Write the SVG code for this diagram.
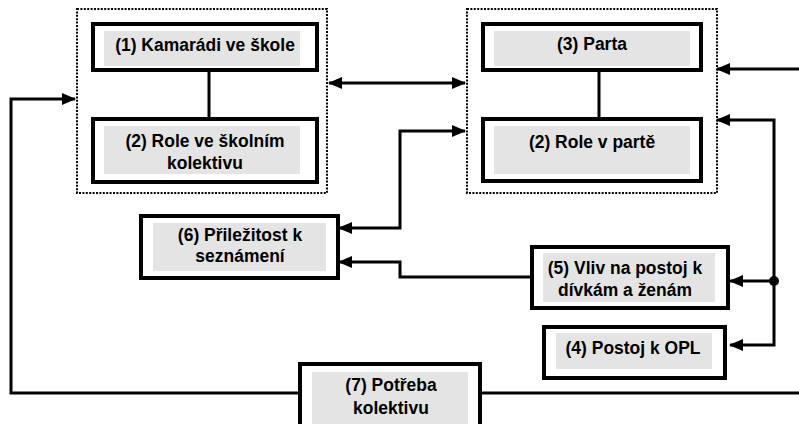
<svg xmlns="http://www.w3.org/2000/svg" width="799" height="424" viewBox="0 0 799 424">
  <style>
    .group { fill: none; stroke: #000; stroke-width: 2; stroke-dasharray: 2 1.4; }
    .box { fill: #fff; stroke: #000; stroke-width: 4; }
    .pad { fill: #e4e4e4; stroke: none; }
    .lbl { font-family: "Liberation Sans", Arial, sans-serif; font-weight: bold; font-size: 19px; fill: #000; text-anchor: middle; }
    .wire { fill: none; stroke: #000; stroke-width: 3; }
    .arr { marker-end: url(#head); }
    .both { marker-start: url(#head); marker-end: url(#head); }
  </style>
  <defs>
    <marker id="head" markerUnits="userSpaceOnUse" markerWidth="14" markerHeight="12" refX="13" refY="6" orient="auto-start-reverse">
      <path d="M0,0 L14,6 L0,12 Z" fill="#000"/>
    </marker>
  </defs>

  <rect width="799" height="424" fill="#fff"/>

  <!-- dotted clusters -->
  <rect class="group" x="77" y="9" width="250" height="184"/>
  <rect class="group" x="467" y="9" width="250" height="184"/>

  <g id="connectors">
    <line class="wire" x1="209" y1="72" x2="209" y2="117"/>
    <line class="wire" x1="599" y1="72" x2="599" y2="117"/>
    <line class="wire both" x1="329" y1="83" x2="465" y2="83"/>
    <path class="wire arr" d="M298,393 H11 V99 H75"/>
    <path class="wire" d="M482,393 H799"/>
    <path class="wire arr" d="M799,69 H717"/>
    <path class="wire both" d="M717,120 H774 V345 H730"/>
    <path class="wire arr" d="M774,281 H730"/>
    <circle cx="774" cy="281" r="5" fill="#000"/>
    <path class="wire both" d="M465,131 H400 V228 H339"/>
    <path class="wire arr" d="M530,277 H400 V262 H339"/>
  </g>

  <!-- labels use a slightly narrowed bold face -->
  <g id="n1">
    <rect class="box" x="93" y="24" width="224" height="46"/>
    <rect class="pad" x="104" y="31" width="196" height="35"/>
    <text class="lbl" transform="translate(205,51) scale(0.92,1)">(1) Kamarádi ve škole</text>
  </g>
  <g id="n2a">
    <rect class="box" x="93" y="119" width="224" height="63"/>
    <rect class="pad" x="104" y="126" width="196" height="48"/>
    <text class="lbl" transform="translate(205,147) scale(0.92,1)">(2) Role ve školním</text>
    <text class="lbl" transform="translate(205,169) scale(0.92,1)">kolektivu</text>
  </g>
  <g id="n3">
    <rect class="box" x="483" y="24" width="218" height="46"/>
    <rect class="pad" x="494" y="31" width="196" height="35"/>
    <text class="lbl" transform="translate(592,50) scale(0.92,1)">(3) Parta</text>
  </g>
  <g id="n2b">
    <rect class="box" x="483" y="119" width="218" height="62"/>
    <rect class="pad" x="494" y="126" width="196" height="48"/>
    <text class="lbl" transform="translate(592,148) scale(0.92,1)">(2) Role v partě</text>
  </g>
  <g id="n6">
    <rect class="box" x="141" y="216" width="197" height="62"/>
    <rect class="pad" x="153" y="223" width="173" height="48"/>
    <text class="lbl" transform="translate(240,241) scale(0.92,1)">(6) Přiležitost k</text>
    <text class="lbl" transform="translate(240,262) scale(0.92,1)">seznámení</text>
  </g>
  <g id="n5">
    <rect class="box" x="532" y="247" width="196" height="61"/>
    <rect class="pad" x="543" y="253" width="172" height="49"/>
    <text class="lbl" transform="translate(625,274) scale(0.92,1)">(5) Vliv na postoj k</text>
    <text class="lbl" transform="translate(625,296) scale(0.92,1)">dívkám a ženám</text>
  </g>
  <g id="n4">
    <rect class="box" x="544" y="327" width="181" height="51"/>
    <rect class="pad" x="556" y="333" width="156" height="36"/>
    <text class="lbl" transform="translate(633,354) scale(0.92,1)">(4) Postoj k OPL</text>
  </g>
  <g id="n7">
    <rect class="box" x="300" y="364" width="180" height="70"/>
    <rect class="pad" x="312" y="372" width="156" height="60"/>
    <text class="lbl" transform="translate(391,391) scale(0.92,1)">(7) Potřeba</text>
    <text class="lbl" transform="translate(391,414) scale(0.92,1)">kolektivu</text>
  </g>
</svg>
